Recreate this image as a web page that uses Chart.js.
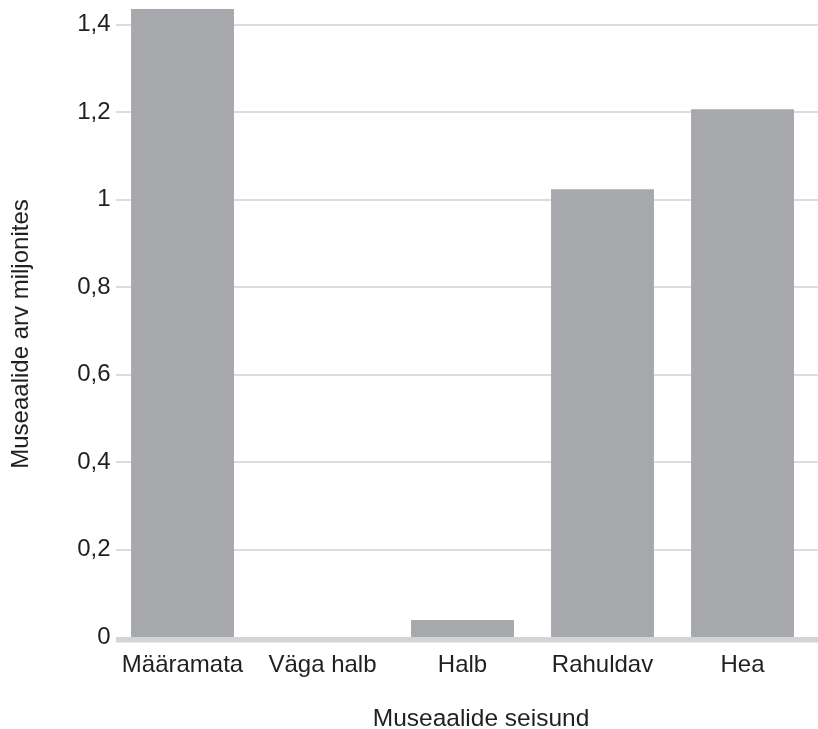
<!DOCTYPE html>
<html lang="et">
<head>
<meta charset="utf-8">
<title>Museaalide arv seisundi järgi</title>
<script src="https://cdn.jsdelivr.net/npm/chart.js@4.4.1/dist/chart.umd.min.js"></script>
<style>
  html, body { margin: 0; padding: 0; background: #ffffff; }
  #wrap { width: 818px; height: 729px; position: relative; }
</style>
</head>
<body>
<div id="wrap"><canvas id="chart" width="818" height="729"></canvas></div>
<script>
// Museaalide seisund (kategooriad) ja museaalide arv miljonites
const categories = ['Määramata', 'Väga halb', 'Halb', 'Rahuldav', 'Hea'];
const valuesMillions = [1.436, 0, 0.039, 1.024, 1.207];
const yTickValues = [0, 0.2, 0.4, 0.6, 0.8, 1, 1.2, 1.4];
const xAxisTitle = 'Museaalide seisund';
const yAxisTitle = 'Museaalide arv miljonites';

const FONT = '"Liberation Sans", Arial, Helvetica, sans-serif';
const TEXT = '#231f20';
const BAR = '#a7a8ab';
const GRID = '#dcdcdc';
const BASE = '#d3d4d6';

const fmt = v => String(Math.round(v * 10) / 10).replace('.', ',');

// Horizontal gridlines and the heavier zero line, drawn from the y scale
const gridPlugin = {
  id: 'gridLines',
  beforeDatasetsDraw(chart) {
    const { ctx, scales: { y }, width } = chart;
    const x0 = chart.chartArea.left + 3.5;
    ctx.save();
    ctx.strokeStyle = GRID;
    ctx.lineWidth = 2;
    yTickValues.forEach(v => {
      if (v === 0) return;
      const py = Math.round(y.getPixelForValue(v));
      ctx.beginPath();
      ctx.moveTo(x0, py);
      ctx.lineTo(width, py);
      ctx.stroke();
    });
    const p0 = y.getPixelForValue(0);
    ctx.fillStyle = BASE;
    ctx.fillRect(x0, p0, width - x0, 5.5);
    ctx.restore();
  }
};

// Axis titles, placed in the space the scales reserve for them
const axisTitlePlugin = {
  id: 'axisTitles',
  afterDraw(chart) {
    const { ctx, chartArea } = chart;
    ctx.save();
    ctx.fillStyle = TEXT;
    ctx.textAlign = 'center';
    ctx.textBaseline = 'alphabetic';

    ctx.font = '24.5px ' + FONT;
    ctx.fillText(xAxisTitle, (chartArea.left + chartArea.right) / 2 + 18.5, chart.height - 3);

    ctx.font = '24px ' + FONT;
    ctx.translate(27.5, (chartArea.top + chartArea.bottom) / 2 + 11);
    ctx.rotate(-Math.PI / 2);
    ctx.fillText(yAxisTitle, 0, 0);
    ctx.restore();
  }
};

new Chart(document.getElementById('chart'), {
  type: 'bar',
  data: {
    labels: categories,
    datasets: [{
      data: valuesMillions,
      backgroundColor: BAR,
      borderWidth: 0,
      categoryPercentage: 1,
      barPercentage: 0.735
    }]
  },
  options: {
    responsive: false,
    animation: false,
    devicePixelRatio: 1,
    layout: { padding: { top: 9, right: 5.5, left: 0, bottom: 0 } },
    plugins: {
      legend: { display: false },
      tooltip: { enabled: false }
    },
    scales: {
      x: {
        grid: { display: false, drawTicks: false },
        border: { display: false },
        ticks: {
          color: TEXT,
          font: { family: FONT, size: 24 },
          padding: 14,
          maxRotation: 0,
          autoSkip: false
        },
        title: { display: false },
        afterFit(scale) { scale.height = 92; }
      },
      y: {
        min: 0,
        max: 1.436,
        grid: { display: false, drawTicks: false },
        border: { display: false },
        afterBuildTicks(scale) {
          scale.ticks = yTickValues.map(v => ({ value: v }));
        },
        ticks: {
          color: TEXT,
          font: { family: FONT, size: 24 },
          padding: 2,
          callback: v => fmt(v)
        },
        title: { display: false },
        afterFit(scale) {
          scale.width = 112.5;
          scale.paddingTop = 0;
          scale.paddingBottom = 0;
        }
      }
    }
  },
  plugins: [gridPlugin, axisTitlePlugin]
});
</script>
</body>
</html>
